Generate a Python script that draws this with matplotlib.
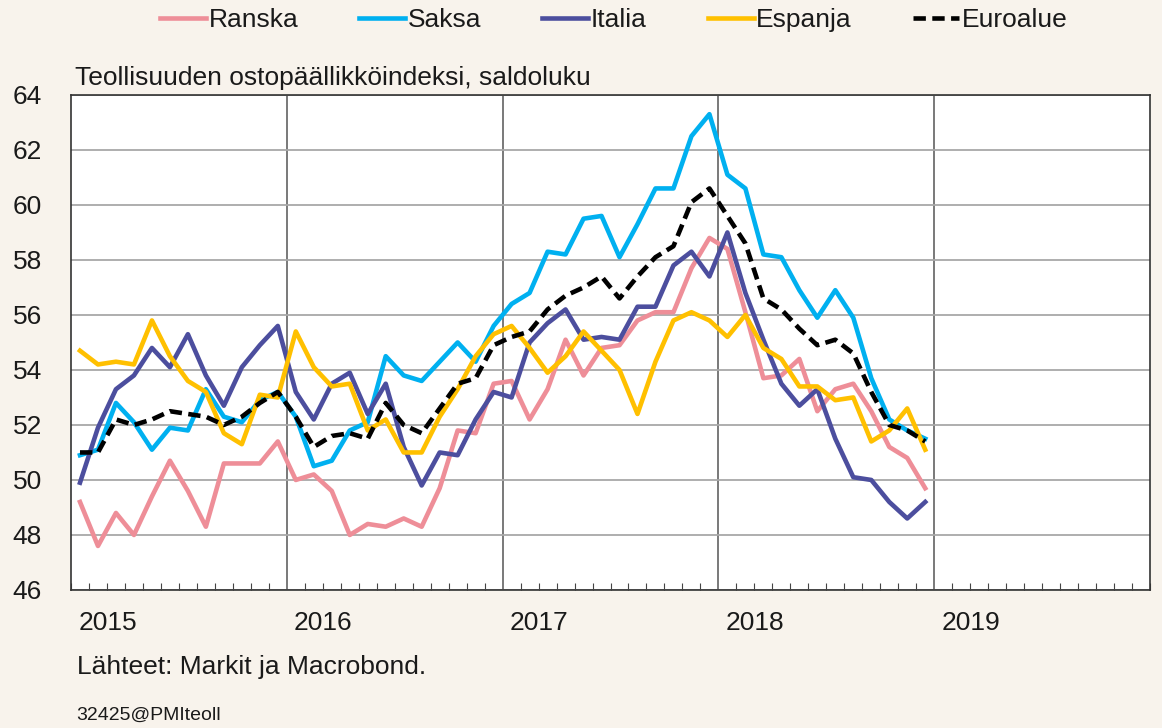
import numpy as np
import matplotlib.pyplot as plt
from matplotlib.ticker import MultipleLocator

plt.rcParams['font.family'] = ['Liberation Sans', 'DejaVu Sans']

# kuukausittaiset arvot 1/2015 - 12/2018
ranska = [49.2, 47.6, 48.8, 48.0, 49.4, 50.7, 49.6, 48.3, 50.6, 50.6, 50.6, 51.4,
          50.0, 50.2, 49.6, 48.0, 48.4, 48.3, 48.6, 48.3, 49.7, 51.8, 51.7, 53.5,
          53.6, 52.2, 53.3, 55.1, 53.8, 54.8, 54.9, 55.8, 56.1, 56.1, 57.7, 58.8,
          58.4, 56.1, 53.7, 53.8, 54.4, 52.5, 53.3, 53.5, 52.5, 51.2, 50.8, 49.7]
saksa = [50.9, 51.1, 52.8, 52.1, 51.1, 51.9, 51.8, 53.3, 52.3, 52.1, 52.9, 53.2,
         52.3, 50.5, 50.7, 51.8, 52.1, 54.5, 53.8, 53.6, 54.3, 55.0, 54.3, 55.6,
         56.4, 56.8, 58.3, 58.2, 59.5, 59.6, 58.1, 59.3, 60.6, 60.6, 62.5, 63.3,
         61.1, 60.6, 58.2, 58.1, 56.9, 55.9, 56.9, 55.9, 53.7, 52.2, 51.8, 51.5]
italia = [49.9, 51.9, 53.3, 53.8, 54.8, 54.1, 55.3, 53.8, 52.7, 54.1, 54.9, 55.6,
          53.2, 52.2, 53.5, 53.9, 52.4, 53.5, 51.2, 49.8, 51.0, 50.9, 52.2, 53.2,
          53.0, 55.0, 55.7, 56.2, 55.1, 55.2, 55.1, 56.3, 56.3, 57.8, 58.3, 57.4,
          59.0, 56.8, 55.1, 53.5, 52.7, 53.3, 51.5, 50.1, 50.0, 49.2, 48.6, 49.2]
espanja = [54.7, 54.2, 54.3, 54.2, 55.8, 54.5, 53.6, 53.2, 51.7, 51.3, 53.1, 53.0,
           55.4, 54.1, 53.4, 53.5, 51.8, 52.2, 51.0, 51.0, 52.3, 53.3, 54.5, 55.3,
           55.6, 54.8, 53.9, 54.5, 55.4, 54.7, 54.0, 52.4, 54.3, 55.8, 56.1, 55.8,
           55.2, 56.0, 54.8, 54.4, 53.4, 53.4, 52.9, 53.0, 51.4, 51.8, 52.6, 51.1]
euroalue = [51.0, 51.0, 52.2, 52.0, 52.2, 52.5, 52.4, 52.3, 52.0, 52.3, 52.8, 53.2,
            52.3, 51.2, 51.6, 51.7, 51.5, 52.8, 52.0, 51.7, 52.6, 53.5, 53.7, 54.9,
            55.2, 55.4, 56.2, 56.7, 57.0, 57.4, 56.6, 57.4, 58.1, 58.5, 60.1, 60.6,
            59.6, 58.6, 56.6, 56.2, 55.5, 54.9, 55.1, 54.6, 53.2, 52.0, 51.8, 51.4]
vuodet = ['2015', '2016', '2017', '2018', '2019']

bg = '#F8F3EC'
fs = 19
fig = plt.figure(figsize=(11.62, 7.28), dpi=100, facecolor=bg)
ax = fig.add_axes([0.0611, 0.1896, 0.9286, 0.68])
ax.set_facecolor('white')

x = np.arange(len(ranska)) + 0.5
lw = 3.3
ax.plot(x, ranska, color='#EE8E98', lw=lw, label='Ranska')
ax.plot(x, saksa, color='#00B0F0', lw=lw, label='Saksa')
ax.plot(x, italia, color='#4C4E9E', lw=lw, label='Italia')
ax.plot(x, espanja, color='#FFC000', lw=lw, label='Espanja')
ax.plot(x, euroalue, color='black', lw=lw, ls=(0, (2.7, 1.4)), label='Euroalue')

ax.set_xlim(0, 60)
ax.set_ylim(46, 64)
ax.yaxis.set_major_locator(MultipleLocator(2))
ax.set_xticks([12, 24, 36, 48])
ax.set_xticklabels([])
ax.xaxis.set_minor_locator(MultipleLocator(1))
ax.tick_params(axis='x', which='major', length=0)
ax.tick_params(axis='x', which='minor', direction='in', length=5, width=0.8, color='#444444')
ax.tick_params(axis='y', length=0, pad=21, labelsize=fs, labelcolor='#1a1a1a')

ax.grid(axis='y', color='#A8A8A8', lw=1.3)
ax.grid(axis='x', color='#555555', lw=1.1)
ax.set_axisbelow(True)
for s in ax.spines.values():
    s.set_color('#333333')
    s.set_linewidth(1.2)

for k, v in enumerate(vuodet):
    ax.text(12 * k + 0.4, -0.066, v, transform=ax.get_xaxis_transform(),
            ha='left', va='center', fontsize=fs, color='#1a1a1a')

fig.text(0.0645, 0.893, 'Teollisuuden ostopäällikköindeksi, saldoluku',
         fontsize=fs, color='#1a1a1a', va='center')
fig.text(0.066, 0.084, 'Lähteet: Markit ja Macrobond.', fontsize=fs,
         color='#1a1a1a', va='center')
fig.text(0.066, 0.018, '32425@PMIteoll', fontsize=14, color='#1a1a1a', va='center')

fig.legend(loc='center', bbox_to_anchor=(0.528, 0.972), ncol=5, frameon=False,
           fontsize=fs, handlelength=1.75, handletextpad=0.1, columnspacing=2.3,
           labelcolor='#1a1a1a')

fig.savefig('out.png', dpi=100, facecolor=bg)
